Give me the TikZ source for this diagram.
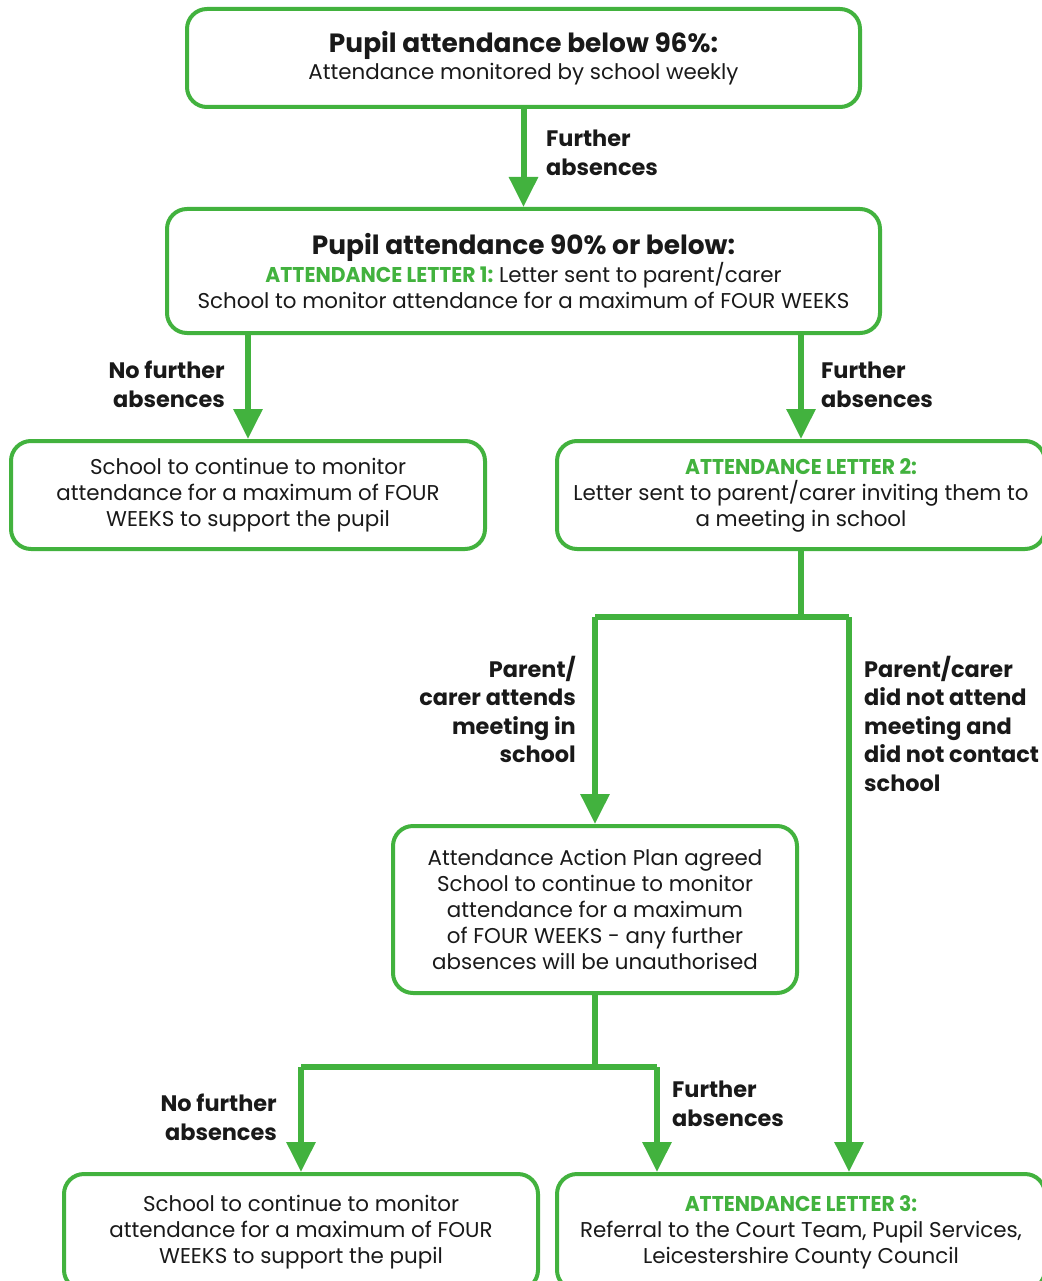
\documentclass[tikz,border=0pt]{standalone}
\usepackage{fontspec}
\setmainfont{Poppins}
\usetikzlibrary{arrows.meta,calc}
\definecolor{fgreen}{RGB}{66,178,62}
\definecolor{ink}{RGB}{25,25,25}
\tikzset{
  box/.style={draw=fgreen, line width=4pt, rounded corners=20pt, align=center, text=ink,
    font=\fontsize{21.4}{26}\selectfont, inner sep=0pt},
  flow/.style={draw=fgreen, line width=6pt},
  arr/.style={flow, -{Triangle[width=28pt,length=30pt]}},
  lbl/.style={font=\fontsize{22.4}{28.5}\selectfont\bfseries, text=ink, inner sep=0pt}
}
\newcommand{\gtext}[1]{\textcolor{fgreen}{\bfseries\scalebox{0.95}[1]{#1}}}
\newcommand{\headtxt}[1]{{\fontsize{26.4}{28}\selectfont\bfseries #1}}
\begin{document}
\begin{tikzpicture}[x=1pt,y=-1pt]
\useasboundingbox (0,0) rectangle (1041,1281);
\node[box, minimum width=673pt, minimum height=98pt] (b1) at (523.5,58)
  {\headtxt{Pupil attendance below 96\%:}\\[1pt]Attendance monitored by school weekly};
\node[box, minimum width=713pt, minimum height=124pt] (b2) at (523.5,271)
  {\headtxt{Pupil attendance 90\% or below:}\\\gtext{ATTENDANCE LETTER 1:} Letter sent to parent/carer\\School to monitor attendance for a maximum of FOUR WEEKS};
\node[box, minimum width=474pt, minimum height=108pt] (b3) at (248,495)
  {School to continue to monitor\\attendance for a maximum of FOUR\\WEEKS to support the pupil};
\node[box, minimum width=488pt, minimum height=108pt] (b4) at (801,495)
  {\gtext{ATTENDANCE LETTER 2:}\\Letter sent to parent/carer inviting them to\\a meeting in school};
\node[box, minimum width=404pt, minimum height=167pt] (b5) at (595,909.5)
  {Attendance Action Plan agreed\\School to continue to monitor\\attendance for a maximum\\of FOUR WEEKS - any further\\absences will be unauthorised};
\node[box, minimum width=474pt, minimum height=116pt] (b6) at (301,1232)
  {School to continue to monitor\\attendance for a maximum of FOUR\\WEEKS to support the pupil};
\node[box, minimum width=488pt, minimum height=116pt] (b7) at (801,1232)
  {\gtext{ATTENDANCE LETTER 3:}\\Referral to the Court Team, Pupil Services,\\Leicestershire County Council};

\coordinate (s1) at (801,617);
\coordinate (s1l) at (595,617);
\coordinate (s1r) at (849,617);
\coordinate (s2) at (595,1067);
\coordinate (s2l) at (301,1067);
\coordinate (s2r) at (657,1067);

\draw[arr] (b1.south) -- (b2.north);
\draw[arr] (b2.south -| b3.north) -- (b3.north);
\draw[arr] (b2.south -| b4.north) -- (b4.north);
\draw[flow] (b4.south) -- (s1);
\draw[flow] (s1l) -- (s1r);
\draw[arr] (s1l) -- (b5.north);
\draw[arr] (s1r) -- (s1r |- b7.north);
\draw[flow] (b5.south) -- (s2);
\draw[flow] (s2l) -- (s2r);
\draw[arr] (s2l) -- (b6.north);
\draw[arr] (s2r) -- (s2r |- b7.north);

\node[lbl, anchor=north west, align=left] (l1) at (546,130) {Further\\absences};
\node[lbl, anchor=north east, align=right] (l2) at (225,361) {No further\\absences};
\node[lbl, anchor=north west, align=left] (l3) at (821,362) {Further\\absences};
\node[lbl, anchor=north east, align=right] (l4) at (576,656) {Parent/\\carer attends\\meeting in\\school};
\node[lbl, anchor=north west, align=left] (l5) at (864,656) {Parent/carer\\did not attend\\meeting and\\did not contact\\school};
\node[lbl, anchor=north east, align=right] (l6) at (277,1094) {No further\\absences};
\node[lbl, anchor=north west, align=left] (l7) at (672,1081) {Further\\absences};
\end{tikzpicture}
\end{document}
